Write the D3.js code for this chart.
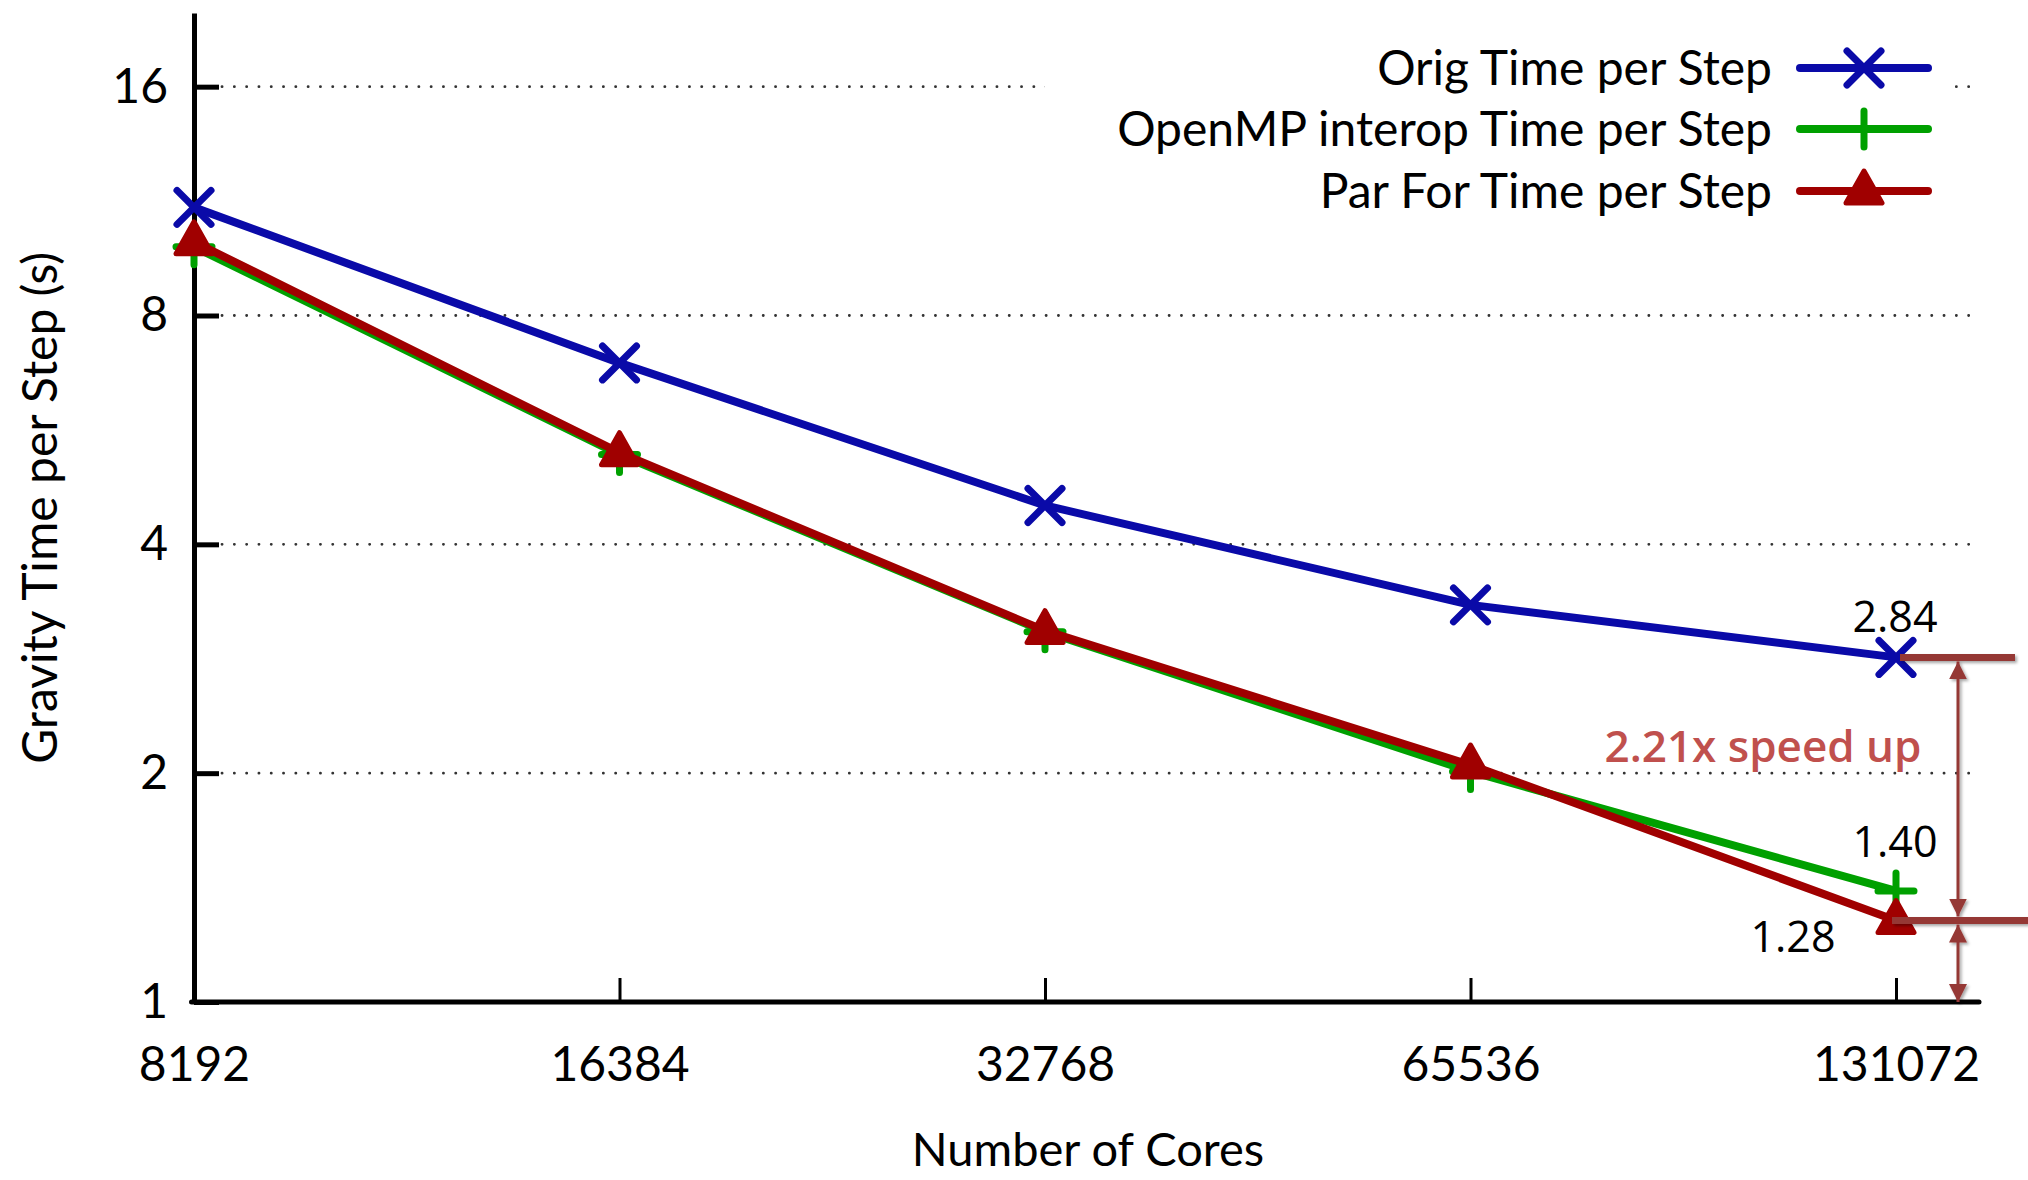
<!DOCTYPE html>
<html>
<head>
<meta charset="utf-8">
<script src="https://cdn.jsdelivr.net/npm/d3@7"></script>
<style>
  body { margin: 0; background: #fff; }
  svg { display: block; }
</style>
</head>
<body>
<svg id="chart" width="2028" height="1180"></svg>
<script>
// Gravity solver time per step vs. core count (log-log)
const cores = [8192, 16384, 32768, 65536, 131072];
const origTime = [11.1, 6.93, 4.50, 3.33, 2.84];
const openmpTime = [9.85, 5.25, 3.07, 2.01, 1.40];
const parForTime = [10.0, 5.28, 3.08, 2.05, 1.28];
const seriesNames = ["Orig Time per Step", "OpenMP interop Time per Step", "Par For Time per Step"];
const yTickValues = [1, 2, 4, 8, 16];
const xTickValues = [8192, 16384, 32768, 65536, 131072];
const speedupText = "2.21x speed up";
const xTitle = "Number of Cores";
const yTitle = "Gravity Time per Step (s)";

const W = 2028, H = 1180;
const plotLeft = 194, plotBottom = 1002, plotTop = 13, axisRight = 1979;

const svg = d3.select("#chart");
const FONT = "Lato, 'Open Sans', sans-serif";
const NOTE_FONT = "'Open Sans', 'Noto Sans', sans-serif";

const x = d3.scaleLog().base(2).domain([8192, 131072]).range([plotLeft, 1896]);
const y = d3.scaleLog().base(2).domain([1, 20]).range([plotBottom, plotTop]);

const series = [
  { name: seriesNames[0], values: origTime, color: "#0a0aa8", marker: "cross" },
  { name: seriesNames[1], values: openmpTime, color: "#00a000", marker: "plus" },
  { name: seriesNames[2], values: parForTime, color: "#a00000", marker: "triangle" }
];

// shadow used by the annotation strokes
const defs = svg.append("defs");
defs.append("filter").attr("id", "shadow").attr("x", "-50%").attr("y", "-50%")
  .attr("width", "200%").attr("height", "200%")
  .append("feDropShadow").attr("dx", 2).attr("dy", 2).attr("stdDeviation", 1.6)
  .attr("flood-color", "#000").attr("flood-opacity", 0.35);
const noteColor = "#953735";
defs.append("marker").attr("id", "arrow").attr("viewBox", "0 0 10 10")
  .attr("refX", 10).attr("refY", 5).attr("markerUnits", "userSpaceOnUse")
  .attr("markerWidth", 18).attr("markerHeight", 18).attr("orient", "auto-start-reverse")
  .append("path").attr("d", "M0,0 L10,5 L0,10 Z").attr("fill", noteColor);

// dotted horizontal grid
const grid = svg.append("g");
yTickValues.filter(v => v > 1).forEach(v => {
  grid.append("line")
    .attr("x1", plotLeft + 28).attr("x2", axisRight)
    .attr("y1", y(v)).attr("y2", y(v))
    .attr("stroke", "#333").attr("stroke-width", 2.8)
    .attr("stroke-linecap", "round")
    .attr("stroke-dasharray", "0.1,12.2");
});

// legend backdrop masks the top grid line
svg.append("rect").attr("x", 1045).attr("y", 22).attr("width", 905).attr("height", 200).attr("fill", "#fff");

// axes
const yAxis = d3.axisLeft(y).tickValues(yTickValues).tickFormat(d3.format("d"))
  .tickSize(-25).tickSizeOuter(0).tickPadding(26);
const gy = svg.append("g").attr("transform", `translate(${plotLeft},0)`).call(yAxis);
gy.select(".domain").attr("stroke", "#000").attr("stroke-width", 5);
gy.selectAll(".tick line").attr("stroke", "#000").attr("stroke-width", 5);
gy.selectAll(".tick text").attr("font-family", FONT).attr("font-size", 48).attr("fill", "#000");

const xAxis = d3.axisBottom(x).tickValues(xTickValues).tickFormat(d3.format("d"))
  .tickSize(-24).tickSizeOuter(0).tickPadding(45);
const gx = svg.append("g").attr("transform", `translate(0,${plotBottom})`).call(xAxis);
gx.select(".domain").remove();
gx.selectAll(".tick line").attr("stroke", "#000").attr("stroke-width", 3);
gx.selectAll(".tick text").attr("font-family", FONT).attr("font-size", 48).attr("fill", "#000");
svg.append("line").attr("x1", plotLeft - 2.5).attr("x2", axisRight).attr("y1", plotBottom).attr("y2", plotBottom)
  .attr("stroke", "#000").attr("stroke-width", 5).attr("stroke-linecap", "round");

// axis titles
svg.append("text").attr("transform", `translate(38,${(y(2) + y(16)) / 2 + 78}) rotate(-90)`)
  .attr("text-anchor", "middle").attr("dominant-baseline", "central")
  .attr("font-family", FONT).attr("font-size", 48).text(yTitle);
svg.append("text").attr("x", 1088).attr("y", 1166).attr("text-anchor", "middle")
  .attr("font-family", FONT).attr("font-size", 47).text(xTitle);

// marker shapes
function drawMarker(g, type, color, cx, cy) {
  if (type === "cross") {
    const r = 17;
    g.append("path").attr("d", `M${cx - r},${cy - r}L${cx + r},${cy + r}M${cx - r},${cy + r}L${cx + r},${cy - r}`)
      .attr("stroke", color).attr("stroke-width", 7).attr("stroke-linecap", "round").attr("fill", "none");
  } else if (type === "plus") {
    const r = 18;
    g.append("path").attr("d", `M${cx - r},${cy}L${cx + r},${cy}M${cx},${cy - r}L${cx},${cy + r}`)
      .attr("stroke", color).attr("stroke-width", 7).attr("stroke-linecap", "round").attr("fill", "none");
  } else {
    g.append("path").attr("d", `M${cx},${cy - 20}L${cx + 18},${cy + 12}L${cx - 18},${cy + 12}Z`)
      .attr("fill", color).attr("stroke", color).attr("stroke-width", 5).attr("stroke-linejoin", "round");
  }
}

// series
const line = d3.line().x(d => x(d[0])).y(d => y(d[1]));
series.forEach(s => {
  const pts = cores.map((c, i) => [c, s.values[i]]);
  const g = svg.append("g");
  g.append("path").attr("d", line(pts)).attr("fill", "none")
    .attr("stroke", s.color).attr("stroke-width", 8)
    .attr("stroke-linejoin", "round").attr("stroke-linecap", "round");
  pts.forEach(p => drawMarker(g, s.marker, s.color, x(p[0]), y(p[1])));
});

// legend
const legendRows = [68, 129, 191];
series.forEach((s, i) => {
  const ly = legendRows[i];
  const g = svg.append("g");
  g.append("text").attr("x", 1772).attr("y", ly + 17).attr("text-anchor", "end")
    .attr("font-family", FONT).attr("font-size", 48).text(s.name);
  g.append("line").attr("x1", 1800).attr("x2", 1928).attr("y1", ly).attr("y2", ly)
    .attr("stroke", s.color).attr("stroke-width", 8).attr("stroke-linecap", "round");
  drawMarker(g, s.marker, s.color, 1864, ly);
});

// end-point value labels
const last = cores.length - 1;
const xEnd = x(cores[last]);
svg.append("text").attr("x", xEnd - 1).attr("y", y(origTime[last]) - 25).attr("text-anchor", "middle")
  .attr("font-family", NOTE_FONT).attr("font-size", 43).text(origTime[last].toFixed(2));
svg.append("text").attr("x", xEnd - 1).attr("y", y(openmpTime[last]) - 34).attr("text-anchor", "middle")
  .attr("font-family", NOTE_FONT).attr("font-size", 43).text(openmpTime[last].toFixed(2));
svg.append("text").attr("x", xEnd - 103).attr("y", y(parForTime[last]) + 31).attr("text-anchor", "middle")
  .attr("font-family", NOTE_FONT).attr("font-size", 43).text(parForTime[last].toFixed(2));

// speed-up annotation
const note = svg.append("g").attr("filter", "url(#shadow)");
const yHi = y(origTime[last]), yLo = y(parForTime[last]);
const arrowX = xEnd + 62;
note.append("line").attr("x1", xEnd + 4).attr("x2", 2015).attr("y1", yHi).attr("y2", yHi)
  .attr("stroke", noteColor).attr("stroke-width", 7);
note.append("line").attr("x1", xEnd - 4).attr("x2", W).attr("y1", yLo).attr("y2", yLo)
  .attr("stroke", noteColor).attr("stroke-width", 7);
note.append("line").attr("x1", arrowX).attr("x2", arrowX).attr("y1", yHi + 4).attr("y2", yLo - 4)
  .attr("stroke", noteColor).attr("stroke-width", 3)
  .attr("marker-start", "url(#arrow)").attr("marker-end", "url(#arrow)");
note.append("line").attr("x1", arrowX).attr("x2", arrowX).attr("y1", yLo + 4).attr("y2", y(1))
  .attr("stroke", noteColor).attr("stroke-width", 3)
  .attr("marker-start", "url(#arrow)").attr("marker-end", "url(#arrow)");
svg.append("text").attr("x", 1763).attr("y", 762).attr("text-anchor", "middle")
  .attr("font-family", NOTE_FONT).attr("font-weight", 600).attr("font-size", 44)
  .attr("fill", "#c0504d").text(speedupText);
</script>
</body>
</html>
